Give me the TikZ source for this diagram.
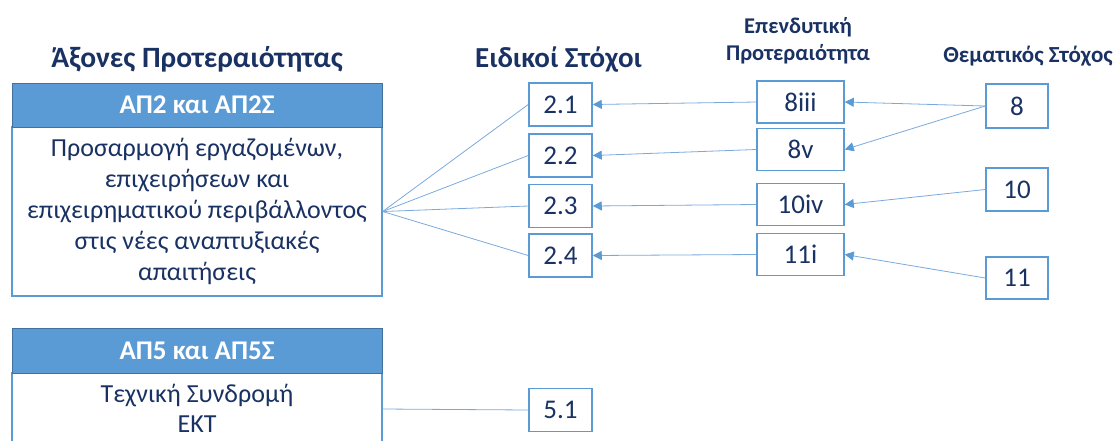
\documentclass[tikz,border=0pt]{standalone}
\usepackage{fontspec}
\setmainfont{Carlito}
\usetikzlibrary{arrows.meta}
\definecolor{acc}{HTML}{5B9BD5}
\definecolor{accdk}{HTML}{41719C}
\definecolor{navy}{HTML}{1A3263}
\definecolor{connc}{HTML}{7AA9DD}
\tikzset{
  hdr/.style={draw=accdk, fill=acc, text=white, font=\bfseries\fontsize{27}{28}\selectfont,
    minimum width=370pt, minimum height=44pt, inner sep=0pt, line width=1pt},
  bodybox/.style={draw=acc, fill=white, line width=1.3pt, minimum width=370pt, inner sep=0pt,
    text=navy, align=center, font=\fontsize{26}{31}\selectfont},
  sbox/.style={draw=acc, fill=white, line width=1.5pt, text=navy, inner sep=0pt,
    font=\fontsize{27}{30}\selectfont},
  bigtitle/.style={text=navy, font=\bfseries\fontsize{29.5}{30}\selectfont, anchor=base, inner sep=0pt},
  smalltitle/.style={text=navy, font=\bfseries\fontsize{22.5}{25}\selectfont, anchor=base, inner sep=0pt},
  plain/.style={text=navy, font=\fontsize{26}{31}\selectfont, anchor=base, inner sep=0pt},
  conn/.style={draw=connc, line width=0.8pt},
  arr/.style={conn, -{Triangle[length=9pt,width=9pt,fill=acc,color=acc]}}
}
\begin{document}
\begin{tikzpicture}[x=1pt,y=-1pt]
\useasboundingbox (0,0) rectangle (1116,440);
% titles
\node[bigtitle] (tA) at (197,67) {Άξονες Προτεραιότητας};
\node[bigtitle, font=\bfseries\fontsize{29}{30}\selectfont] (tE) at (558.5,67) {Ειδικοί Στόχοι};
\node[smalltitle] (tP1) at (798,33) {Επενδυτική};
\node[smalltitle] (tP2) at (798,60) {Προτεραιότητα};
\node[smalltitle, font=\bfseries\fontsize{23}{25}\selectfont] (tT) at (1028,62) {Θεματικός Στόχος};
% axis 2
\node[bodybox, minimum height=169pt] (b1) at (197,211.5)
  {Προσαρμογή εργαζομένων,\\επιχειρήσεων και\\επιχειρηματικού περιβάλλοντος\\στις νέες αναπτυξιακές\\απαιτήσεις};
\node[hdr] (h1) at (197,105) {ΑΠ2 και ΑΠ2Σ};
% axis 5
\node[bodybox, minimum height=72pt] (b2) at (197,409) {};
\node[hdr, minimum height=45pt] (h2) at (197,350.5) {ΑΠ5 και ΑΠ5Σ};
\node[plain] (t2a) at (197,402) {Τεχνική Συνδρομή};
\node[plain] (t2b) at (197,432) {ΕΚΤ};
% specific objectives
\node[sbox, minimum width=63pt, minimum height=43pt] (s21) at (560.5,104.5) {2.1};
\node[sbox, minimum width=63pt, minimum height=43pt] (s22) at (560.5,155.5) {2.2};
\node[sbox, minimum width=63pt, minimum height=43pt] (s23) at (560.5,206) {2.3};
\node[sbox, minimum width=63pt, minimum height=43pt] (s24) at (560.5,255.5) {2.4};
\node[sbox, minimum width=63pt, minimum height=43pt] (s51) at (560.5,410) {5.1};
% investment priorities
\node[sbox, minimum width=87pt, minimum height=42pt] (p8iii) at (800.5,102) {8iii};
\node[sbox, minimum width=87pt, minimum height=42pt] (p8v) at (800.5,149.5) {8v};
\node[sbox, minimum width=87pt, minimum height=42pt] (p10iv) at (800.5,204.5) {10iv};
\node[sbox, minimum width=87pt, minimum height=42pt] (p11i) at (800.5,254.5) {11i};
% thematic objectives
\node[sbox, minimum width=62pt, minimum height=44pt] (o8) at (1017,106) {8};
\node[sbox, minimum width=62pt, minimum height=43pt] (o10) at (1017,189.5) {10};
\node[sbox, minimum width=62pt, minimum height=42pt] (o11) at (1017,278) {11};
% fan
\coordinate (fan) at (b1.east);
\draw[conn] (fan) -- (s21.west);
\draw[conn] (fan) -- (s22.west);
\draw[conn] (fan) -- (s23.west);
\draw[conn] (fan) -- (s24.west);
\draw[conn] (b2.east) -- (s51.west);
% arrows
\draw[arr] (p8iii.west) -- (s21.east);
\draw[arr] (p8v.west) -- (s22.east);
\draw[arr] (p10iv.west) -- (s23.east);
\draw[arr] (p11i.west) -- (s24.east);
\draw[arr] (o8.west) -- (p8iii.east);
\draw[arr] (o8.west) -- (p8v.east);
\draw[arr] (o10.west) -- (p10iv.east);
\draw[arr] (o11.west) -- (p11i.east);
\end{tikzpicture}
\end{document}
